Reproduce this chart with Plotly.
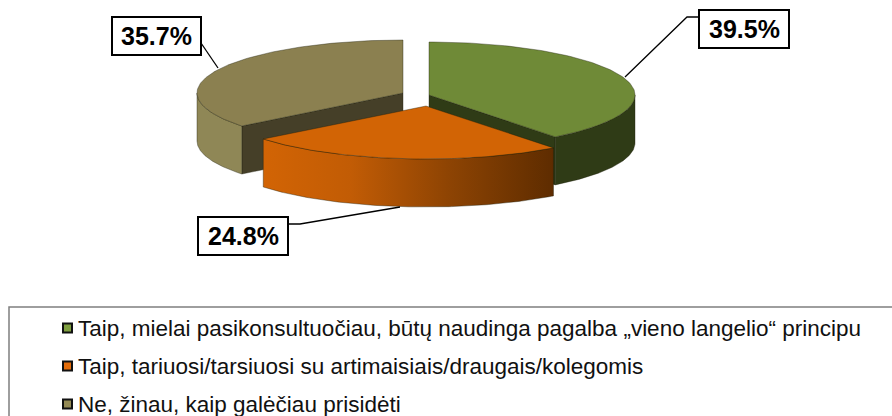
import numpy as np
import plotly.graph_objects as go

categories = [
    "Taip, mielai pasikonsultuočiau, būtų naudinga pagalba „vieno langelio“ principu",
    "Taip, tariuosi/tarsiuosi su artimaisiais/draugais/kolegomis",
    "Ne, žinau, kaip galėčiau prisidėti",
]
shares = [39.5, 24.8, 35.7]
top_colors = ["#6f8a37", "#d26405", "#8b8050"]
inner_colors = ["#2f3b16", None, "#453f28"]
legend_colors = ["#7f9f3f", "#e46c0a", "#948a54"]

W, H = 892, 416
RX = [206, 208, 206]
RY, DEPTH = 53, 48
APEX_X = [429, 426, 403]
APEX_Y = [95, 106, 93]
EDGE = "rgba(30,30,10,0.55)"

edges = 2 * np.pi * np.concatenate([[0], np.cumsum(shares)]) / sum(shares)


def arc(i, a, b, n=120):
    t = np.linspace(a, b, n)
    return APEX_X[i] + RX[i] * np.sin(t), APEX_Y[i] - RY * np.cos(t)


def poly(xs, ys, color, line=EDGE, grad=None):
    kw = dict(fillgradient=grad) if grad else dict(fillcolor=color)
    return go.Scatter(x=list(xs), y=list(ys), mode="lines", fill="toself",
                      line=dict(color=line, width=0.7), hoverinfo="skip", showlegend=False, **kw)


def top(i):
    x, y = arc(i, edges[i], edges[i + 1])
    return poly(np.r_[APEX_X[i], x, APEX_X[i]], np.r_[APEX_Y[i], y, APEX_Y[i]], top_colors[i])


def outer(i, a, b, color, grad=None):
    x, y = arc(i, a, b)
    return poly(np.r_[x, x[::-1], x[0]], np.r_[y, y[::-1] + DEPTH, y[0]], color, grad=grad)


def inner(i, angle):
    x, y = arc(i, angle, angle, 1)
    ax, ay = APEX_X[i], APEX_Y[i]
    return poly([ax, x[0], x[0], ax, ax], [ay, y[0], y[0] + DEPTH, ay + DEPTH, ay], inner_colors[i])


fig = go.Figure()
# green slice
fig.add_trace(inner(0, edges[1]))
fig.add_trace(outer(0, np.pi / 2, edges[1], "#2f3b16"))
fig.add_trace(top(0))
# tan slice
fig.add_trace(inner(2, edges[2]))
fig.add_trace(outer(2, edges[2], 3 * np.pi / 2, "#8f8756"))
fig.add_trace(top(2))
# orange slice, in front
fig.add_trace(outer(1, edges[1], edges[2], "#d26405", grad=dict(
    type="horizontal",
    colorscale=[[0, "#d26405"], [0.3, "#c25c05"], [0.65, "#8c4303"], [1, "#5e2c00"]],
)))
fig.add_trace(top(1))

# leader lines: green, orange, tan
leaders_x = [[625, 687, 699], [400, 300, 288], [218, 201]]
leaders_y = [[77, 17, 17], [207, 224, 224], [68, 43]]
for lx, ly in zip(leaders_x, leaders_y):
    fig.add_trace(go.Scatter(x=lx, y=ly, mode="lines", line=dict(color="#000", width=1.3),
                             hoverinfo="skip", showlegend=False))

# value labels: green, orange, tan
box_x0 = [699, 198, 112]
box_x1 = [789, 288, 201]
box_y0 = [10, 217, 17]
box_y1 = [48, 255, 55]
shapes = []
annotations = []
for v, x0, x1, y0, y1 in zip(shares, box_x0, box_x1, box_y0, box_y1):
    shapes.append(dict(type="rect", x0=x0, x1=x1, y0=y0, y1=y1, xref="x", yref="y", layer="above",
                       line=dict(color="#000", width=2), fillcolor="#fff"))
    annotations.append(dict(x=(x0 + x1) / 2, y=(y0 + y1) / 2, xref="x", yref="y", text=f"<b>{v}%</b>",
                            showarrow=False, font=dict(family="Liberation Sans", size=25, color="#000")))

# legend frame
shapes.append(dict(type="path", path=f"M 9 {H} L 9 307 L {W} 307", xref="x", yref="y",
                   line=dict(color="#7f7f7f", width=1.5)))

legend_y = [328, 366, 404]
fig.add_trace(go.Scatter(x=[67.5] * 3, y=legend_y, mode="markers", hoverinfo="skip", showlegend=False,
                         marker=dict(symbol="square", size=9, color=legend_colors,
                                     line=dict(color="#111", width=2))))
for c, y in zip(categories, legend_y):
    annotations.append(dict(x=76, y=y, xref="x", yref="y", text=c, showarrow=False, xanchor="left",
                            font=dict(family="Liberation Sans", size=22.5, color="#111")))

fig.update_layout(
    width=W, height=H, margin=dict(l=0, r=0, t=0, b=0), paper_bgcolor="#fff", plot_bgcolor="#fff",
    xaxis=dict(range=[0, W], visible=False, fixedrange=True),
    yaxis=dict(range=[H, 0], visible=False, fixedrange=True),
    shapes=shapes, annotations=annotations, showlegend=False,
)
fig.write_html("out.html", config=dict(displayModeBar=False),
               post_script="document.body.style.margin='0';document.body.style.overflow='hidden';")
